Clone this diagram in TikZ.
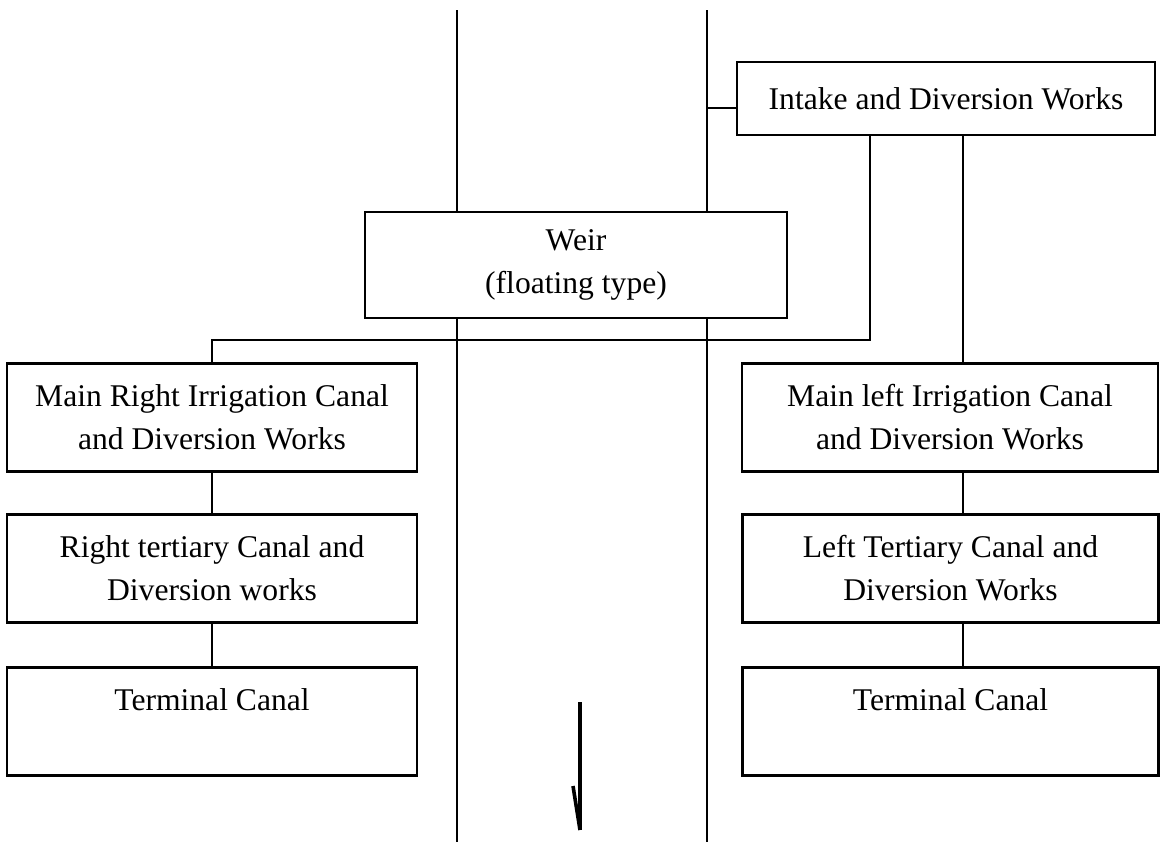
\documentclass[tikz,border=0pt]{standalone}
\usepackage{fontspec}
\setmainfont{Liberation Serif}
\begin{document}
\begin{tikzpicture}[x=0.5pt,y=-0.5pt,line width=1.2pt,
  box/.style={draw, rectangle, inner sep=0pt, align=center,
    font=\fontsize{15.8}{21.5}\selectfont},
  wide/.style={minimum width=205pt},
  wider/.style={minimum width=208pt},
  tall/.style={minimum height=54pt}]
\useasboundingbox (0,0) rectangle (1160,842);
% boxes
\node[box, minimum width=209pt, minimum height=36.5pt] (intake) at (946,98.5) {Intake and Diversion Works};
\node[box, minimum width=211pt, minimum height=53pt] (weir) at (576,265) {Weir\\(floating type)};
\node[box, wide, tall] (mr) at (212,417.5) {Main Right Irrigation Canal\\and Diversion Works};
\node[box, wide, tall] (rt) at (212,568.5) {Right tertiary Canal and\\Diversion works};
\node[box, wide, tall] (rterm) at (212,721.5) {Terminal Canal\\~};
\node[box, wider, tall] (ml) at (950,417.5) {Main left Irrigation Canal\\and Diversion Works};
\node[box, wider, tall] (lt) at (950.5,568.5) {Left Tertiary Canal and\\Diversion Works};
\node[box, wider, tall] (lterm) at (950.5,721.5) {Terminal Canal\\~};
% river banks
\coordinate (ltop) at (457,10);
\coordinate (lbot) at (457,842);
\coordinate (rtop) at (707,10);
\coordinate (rbot) at (707,842);
\draw (ltop) -- (ltop |- weir.north);
\draw (ltop |- weir.south) -- (lbot);
\draw (rtop) -- (rtop |- weir.north);
\draw (rtop |- weir.south) -- (rbot);
% intake stub
\coordinate (stub) at (707,108);
\draw (stub) -- (stub -| intake.west);
% intake to main right canal
\coordinate (j) at (870,340);
\draw (intake.south -| j) -- (j) -- (j -| mr.north) -- (mr.north);
% intake to main left canal
\coordinate (k) at (963,0);
\draw (intake.south -| k) -- (ml.north -| k);
\draw (ml.south -| k) -- (lt.north -| k);
\draw (lt.south -| k) -- (lterm.north -| k);
% right side chain
\draw (mr.south) -- (rt.north);
\draw (rt.south) -- (rterm.north);
% flow arrow
\coordinate (atop) at (580,702);
\coordinate (abot) at (580,830);
\coordinate (barb) at (573,786);
\draw[line width=1.8pt] (atop) -- (abot);
\draw[line width=1.8pt] (barb) -- (abot);
\end{tikzpicture}
\end{document}
